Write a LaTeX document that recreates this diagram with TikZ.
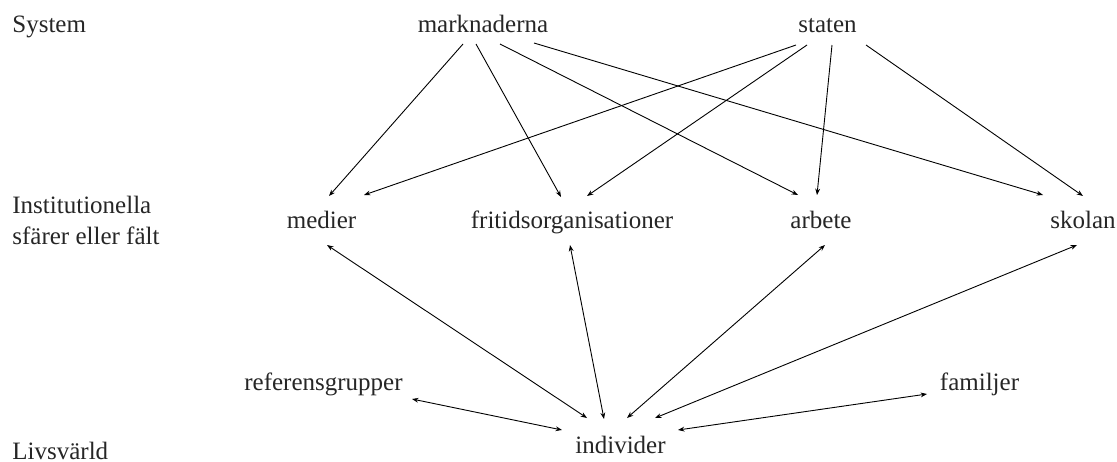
\documentclass[tikz,border=0pt]{standalone}
\usepackage{fontspec}
\setmainfont{Liberation Serif}
\usetikzlibrary{arrows.meta}
\begin{document}
\begin{tikzpicture}[x=0.5pt,y=-0.5pt,
  lbl/.style={inner sep=0pt,anchor=base,font=\fontsize{12.5}{15}\selectfont,text=black!85},
  side/.style={lbl,anchor=base west},
  conn/.style={line width=0.45pt,-{Stealth[length=3.2pt,width=2.4pt]}},
  both/.style={line width=0.45pt,{Stealth[length=3.2pt,width=2.4pt]}-{Stealth[length=3.2pt,width=2.4pt]}}]
\useasboundingbox (0,0) rectangle (1117,461);
% side labels
\node[side] (sys) at (12,32) {System};
\node[side] (inst1) at (12,213) {Institutionella};
\node[side] (inst2) at (12,244) {sfärer eller fält};
\node[side] (liv) at (12,459) {Livsvärld};
% nodes
\node[lbl] (mark) at (483,32) {marknaderna};
\node[lbl] (stat) at (827.5,32) {staten};
\node[lbl] (med) at (321.5,228) {medier};
\node[lbl] (fri) at (572,228) {fritidsorganisationer};
\node[lbl] (arb) at (821,228) {arbete};
\node[lbl] (sko) at (1083,228) {skolan};
\node[lbl] (ref) at (323.5,390) {referensgrupper};
\node[lbl] (fam) at (979.5,390) {familjer};
\node[lbl] (ind) at (620.5,453) {individer};
% marknaderna
\draw[conn] ([shift={(-20,12)}]mark.base) -- ([shift={(7.5,-32)}]med.base);
\draw[conn] ([shift={(-7,12)}]mark.base) -- ([shift={(-11,-31)}]fri.base);
\draw[conn] ([shift={(17,12)}]mark.base) -- ([shift={(-23,-33)}]arb.base);
\draw[conn] ([shift={(51,11)}]mark.base) -- ([shift={(-40,-33)}]sko.base);
% staten
\draw[conn] ([shift={(-31.5,13)}]stat.base) -- ([shift={(42.5,-33)}]med.base);
\draw[conn] ([shift={(-20.5,13)}]stat.base) -- ([shift={(15,-32)}]fri.base);
\draw[conn] ([shift={(4.5,13)}]stat.base) -- ([shift={(-4,-33)}]arb.base);
\draw[conn] ([shift={(38.5,13)}]stat.base) -- ([shift={(0,-32)}]sko.base);
% individer
\draw[both] ([shift={(5.5,17)}]med.base) -- ([shift={(-33.5,-35)}]ind.base);
\draw[both] ([shift={(-2,17)}]fri.base) -- ([shift={(-16.5,-34)}]ind.base);
\draw[both] ([shift={(4,17)}]arb.base) -- ([shift={(6.5,-35)}]ind.base);
\draw[both] ([shift={(-6,17)}]sko.base) -- ([shift={(34.5,-35)}]ind.base);
\draw[both] ([shift={(88.5,9)}]ref.base) -- ([shift={(-58.5,-23)}]ind.base);
\draw[both] ([shift={(-52.5,4)}]fam.base) -- ([shift={(57.5,-23)}]ind.base);
\end{tikzpicture}
\end{document}
